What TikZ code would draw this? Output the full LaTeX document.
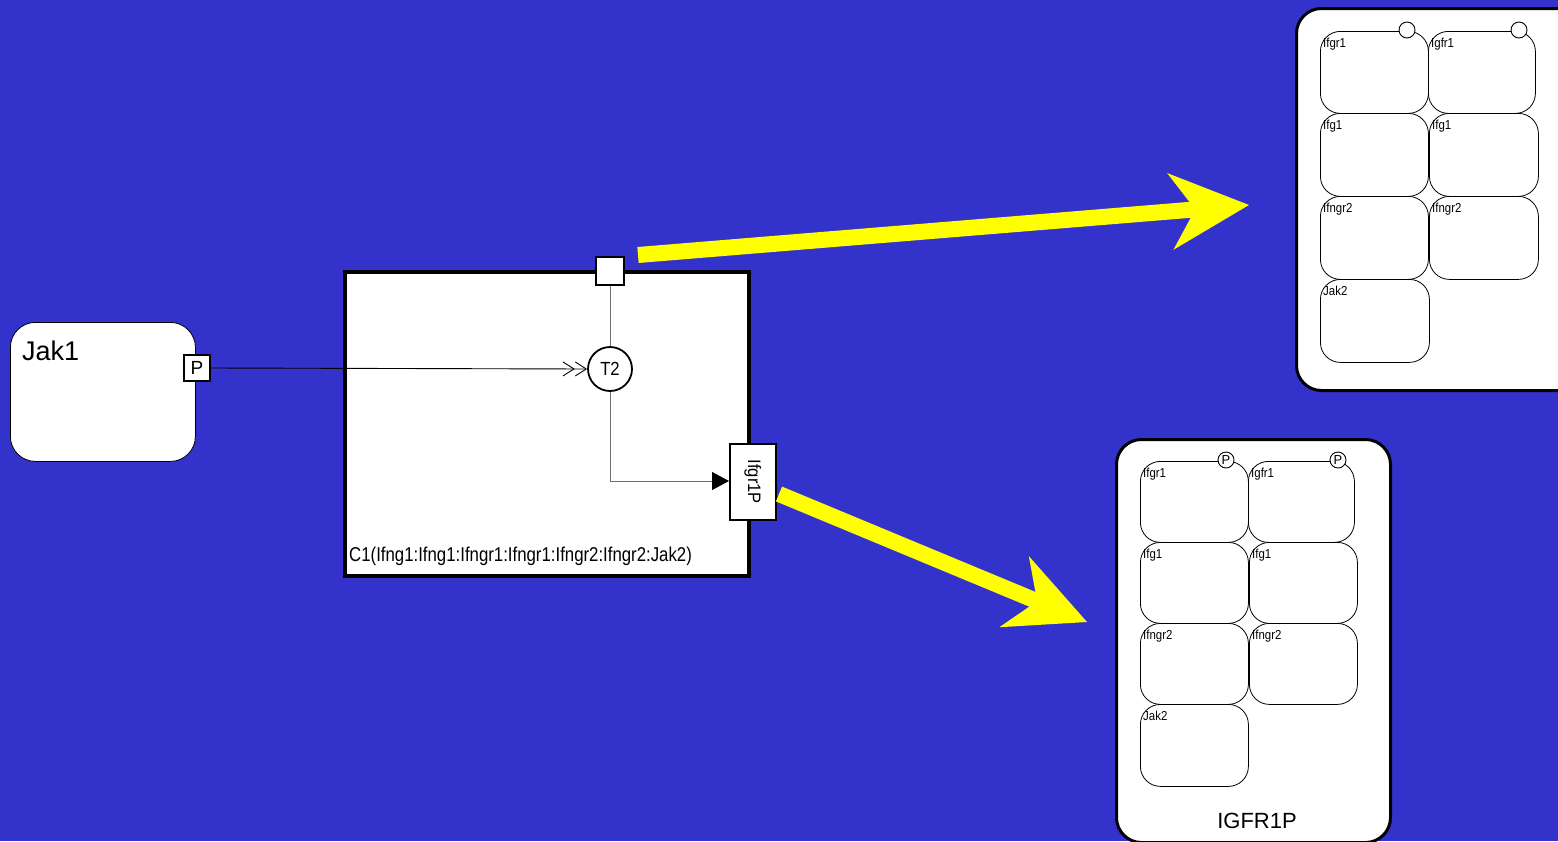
\documentclass[tikz,border=0pt]{standalone}
\usepackage{fontspec}
\setmainfont{Liberation Sans}
\usetikzlibrary{arrows.meta,calc}
\definecolor{bg}{RGB}{51,51,204}
\definecolor{ylw}{RGB}{255,255,0}
\definecolor{lgray}{RGB}{110,110,110}
\newcommand{\nar}[2][0.85]{\scalebox{#1}[1]{#2}}
\begin{document}
\begin{tikzpicture}[x=1pt,y=-1pt,
  cell/.style={draw=black, fill=white, rounded corners=20pt, line width=0.8pt,
    minimum width=#1, minimum height=82pt, anchor=north west, inner sep=0pt},
  cell/.default=108pt,
  celltxt/.style={anchor=base west, inner sep=0pt, font=\fontsize{13}{13}\selectfont},
  outerbox/.style={draw=black, fill=white, rounded corners=25pt, line width=3pt},
  port/.style={draw=black, fill=white, line width=1.6pt, inner sep=0pt, minimum size=#1},
  site/.style={draw=black, fill=white, circle, line width=0.9pt, inner sep=0pt, minimum size=16pt,
    font=\fontsize{13}{13}\selectfont},
  bigarrow/.style={draw=ylw, line width=16pt,
    -{Stealth[length=79pt,width=77pt,inset=25pt,fill=ylw,line width=0pt]}},
  thin/.style={draw=lgray, line width=0.9pt}
]
\useasboundingbox (0,0) rectangle (1558,841);
\fill[bg] (0,0) rectangle (1558,841);
\begin{scope}
\clip (0,0) rectangle (1558,841);

% Jak1
\node[draw=black, fill=white, rounded corners=25pt, line width=0.8pt, minimum width=185pt,
  minimum height=139pt, anchor=north west, inner sep=0pt] (jak1) at (10,322) {};
\node[anchor=base west, inner sep=0pt, font=\fontsize{27}{27}\selectfont] (jak1lbl) at (22,360) {Jak1};
\node[port=26pt, font=\fontsize{19}{19}\selectfont] (pport) at (197,368) {\raisebox{-0.5pt}{P}};

% C1 complex
\node[draw=black, fill=white, line width=3.5pt, minimum width=404pt, minimum height=304pt,
  anchor=north west, inner sep=0pt] (c1) at (343,270) {};
\node[anchor=base west, inner sep=0pt, font=\fontsize{20}{20}\selectfont] (c1lbl) at (349,561)
  {\nar[0.84]{C1(Ifng1:Ifng1:Ifngr1:Ifngr1:Ifngr2:Ifngr2:Jak2)}};
\node[port=28pt] (topport) at (610,271) {};
\node[draw=black, fill=white, circle, line width=1.8pt, minimum size=44pt, inner sep=0pt,
  font=\fontsize{19}{19}\selectfont] (t2) at (610,369) {\nar[0.88]{T2}};
\node[draw=black, fill=white, line width=1.6pt, minimum width=46pt, minimum height=76pt,
  anchor=north west, inner sep=0pt] (ifgr1p) at (729,443) {};
\node[rotate=-90, inner sep=0pt, font=\fontsize{18}{18}\selectfont] (ifgr1plbl) at (ifgr1p.center) {\nar[0.92]{Ifgr1P}};

\coordinate (corner) at (610,481);
\draw[thin] (topport.south) -- (t2.north);
\draw[thin] (t2.south) -- (corner);
\draw[thin, -{Triangle[length=17pt,width=18pt,fill=black,color=black]}] (corner) -- (ifgr1p.west |- corner);
\draw[black, line width=0.9pt,
  -{Straight Barb[length=11pt,width=14pt,line width=0.9pt] Straight Barb[length=11pt,width=14pt,line width=0.9pt]}]
  (pport.east) -- (t2.west);

% yellow arrows
\coordinate (a1s) at (638,255);
\coordinate (a1e) at (1249,205);
\coordinate (a2s) at (779,494);
\coordinate (a2e) at (1087,622);
\draw[bigarrow] (a1s) -- (a1e);
\draw[bigarrow] (a2s) -- (a2e);

% top right box
\node[outerbox, minimum width=290pt, minimum height=382pt, anchor=north west, inner sep=0pt] (trbox) at (1295,7) {};
\node[cell] (tr1) at (1320,31) {};
\node[cell=107pt] (tr2) at (1428,31) {};
\node[cell, minimum height=83pt] (tr3) at (1320,113) {};
\node[cell=109pt, minimum height=83pt] (tr4) at (1429,113) {};
\node[cell, minimum height=83pt] (tr5) at (1320,196) {};
\node[cell=109pt, minimum height=83pt] (tr6) at (1429,196) {};
\node[cell=109pt, minimum height=83pt] (tr7) at (1320,279) {};
\node[site] (trs1) at (1407,30) {};
\node[site] (trs2) at (1519,30) {};
\node[celltxt] (trl1) at ($(tr1.north west)+(3,16)$) {\nar[0.88]{Ifgr1}};
\node[celltxt] (trl2) at ($(tr2.north west)+(3,16)$) {\nar[0.88]{Igfr1}};
\node[celltxt] (trl3) at ($(tr3.north west)+(3,16)$) {\nar[0.88]{Ifg1}};
\node[celltxt] (trl4) at ($(tr4.north west)+(3,16)$) {\nar[0.88]{Ifg1}};
\node[celltxt] (trl5) at ($(tr5.north west)+(3,16)$) {\nar[0.88]{Ifngr2}};
\node[celltxt] (trl6) at ($(tr6.north west)+(3,16)$) {\nar[0.88]{Ifngr2}};
\node[celltxt] (trl7) at ($(tr7.north west)+(3,16)$) {\nar[0.88]{Jak2}};

% bottom right box
\node[outerbox, minimum width=274pt, minimum height=403pt, anchor=north west, inner sep=0pt] (brbox) at (1115,438) {};
\node[cell, minimum height=81pt] (br1) at (1140,461) {};
\node[cell=106pt, minimum height=81pt] (br2) at (1248,461) {};
\node[cell, minimum height=81pt] (br3) at (1140,542) {};
\node[cell=108pt, minimum height=81pt] (br4) at (1249,542) {};
\node[cell, minimum height=81pt] (br5) at (1140,623) {};
\node[cell=108pt, minimum height=81pt] (br6) at (1249,623) {};
\node[cell, minimum height=82pt] (br7) at (1140,704) {};
\node[site] (brs1) at (1226,460) {P};
\node[site] (brs2) at (1338,460) {P};
\node[celltxt] (brl1) at ($(br1.north west)+(3,16)$) {\nar[0.88]{Ifgr1}};
\node[celltxt] (brl2) at ($(br2.north west)+(3,16)$) {\nar[0.88]{Igfr1}};
\node[celltxt] (brl3) at ($(br3.north west)+(3,16)$) {\nar[0.88]{Ifg1}};
\node[celltxt] (brl4) at ($(br4.north west)+(3,16)$) {\nar[0.88]{Ifg1}};
\node[celltxt] (brl5) at ($(br5.north west)+(3,16)$) {\nar[0.88]{Ifngr2}};
\node[celltxt] (brl6) at ($(br6.north west)+(3,16)$) {\nar[0.88]{Ifngr2}};
\node[celltxt] (brl7) at ($(br7.north west)+(3,16)$) {\nar[0.88]{Jak2}};
\node[inner sep=0pt, anchor=base, font=\fontsize{22}{22}\selectfont] (brlbl) at (1257,828) {IGFR1P};
\end{scope}
\end{tikzpicture}
\end{document}
